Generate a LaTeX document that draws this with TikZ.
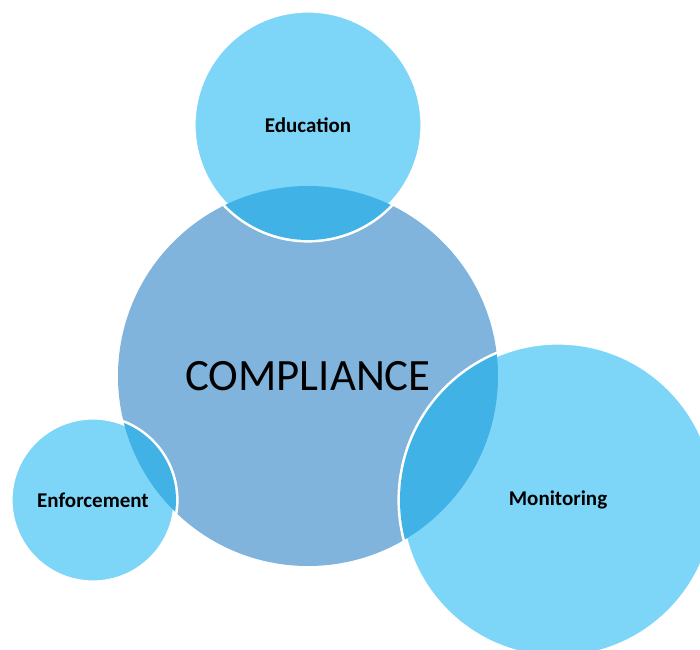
\documentclass[tikz,border=0pt]{standalone}
\usepackage{fontspec}
\setmainfont{Carlito}
\definecolor{hubblue}{RGB}{128,180,221}
\definecolor{paleblue}{RGB}{125,214,248}
\definecolor{deepblue}{RGB}{64,178,230}

\begin{document}
\begin{tikzpicture}[x=0.5pt,y=0.5pt,
  hub/.style={circle,fill=hubblue,inner sep=0pt,minimum size=190pt,font=\fontsize{22.4}{26}\selectfont},
  spoke/.style={circle,fill=paleblue,draw=white,line width=2.6pt,inner sep=0pt,font=\bfseries\fontsize{10.5}{12}\selectfont}]

\useasboundingbox (0,0) rectangle (700,649);
\clip (0,0) rectangle (700,649);

\node[hub] (comp) at (308,273) {COMPLIANCE};
\node[spoke,minimum size=115pt] (edu) at (308,524) {Education};
\node[spoke,minimum size=83pt] (enf) at (93,149) {Enforcement};
\node[spoke,minimum size=158pt] (mon) at (558,149) {Monitoring};

% overlaps with the hub
\begin{scope}
\clip (comp.center) circle (95pt);
\fill[deepblue] (edu.center) circle (57.5pt);
\fill[deepblue] (enf.center) circle (41.5pt);
\fill[deepblue] (mon.center) circle (79pt);
\end{scope}
\end{tikzpicture}
\end{document}
